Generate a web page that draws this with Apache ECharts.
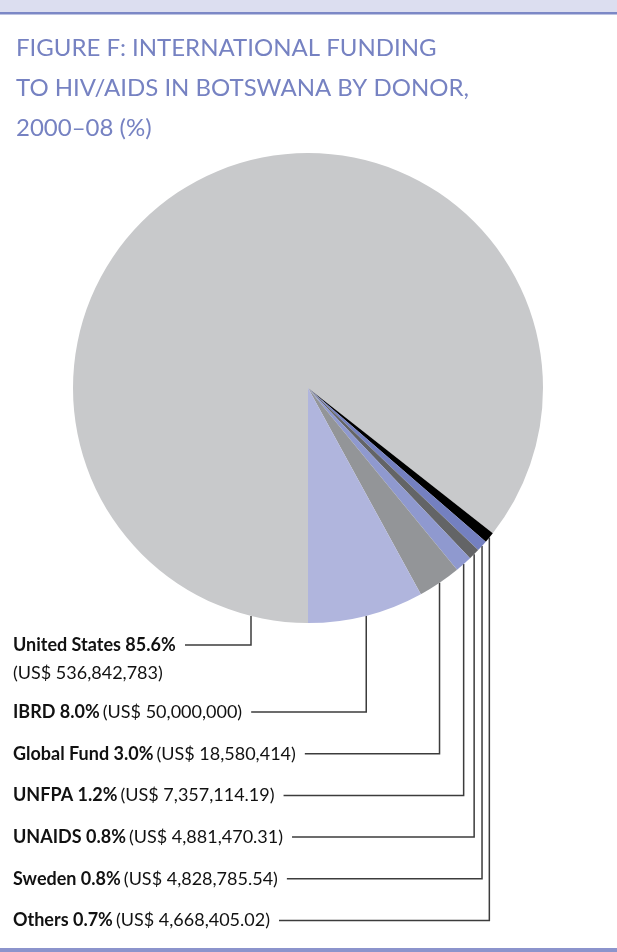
<!DOCTYPE html>
<html>
<head>
<meta charset="utf-8">
<script src="https://cdn.jsdelivr.net/npm/echarts@6/dist/echarts.min.js"></script>
<style>
html,body{margin:0;padding:0;background:#fff;}
#chart{width:617px;height:952px;}
</style>
</head>
<body>
<div id="chart"></div>
<script>
// ---- data (listed in label order) ----
var donors = ['United States', 'IBRD', 'Global Fund', 'UNFPA', 'UNAIDS', 'Sweden', 'Others'];
var amounts = [536842783, 50000000, 18580414, 7357114.19, 4881470.31, 4828785.54, 4668405.02];
var percents = [85.6, 8.0, 3.0, 1.2, 0.8, 0.8, 0.7];
var titleLines = ['FIGURE F: INTERNATIONAL FUNDING', 'TO HIV/AIDS IN BOTSWANA BY DONOR,', '2000\u201308 (%)'];

// ---- styles ----
var sliceColors = ['#c8c9cb', '#b0b5dd', '#939598', '#8f99cf', '#636466', '#7480c0', '#000000'];
var CX = 308, CY = 388, R = 235;
var FONT = 'Lato, "Open Sans", sans-serif';
// drawing order around the pie (clockwise from 6 o'clock): US first, then the small donors back towards IBRD
var sliceOrder = [0, 6, 5, 4, 3, 2, 1];

function fmtAmount(v) {
  var dec = Number.isInteger(v) ? 0 : 2;
  return new Intl.NumberFormat('en-US', {minimumFractionDigits: dec, maximumFractionDigits: dec}).format(v);
}

var pieData = sliceOrder.map(function (k) {
  return {name: donors[k], value: amounts[k], rank: k, itemStyle: {color: sliceColors[k]}};
});

var chart = echarts.init(document.getElementById('chart'), null, {renderer: 'canvas'});

var option = {
  animation: false,
  backgroundColor: '#ffffff',
  title: {
    text: titleLines.join('\n'),
    left: 11,
    top: 23,
    textStyle: {color: '#7682c2', fontFamily: FONT, fontWeight: 'normal', fontSize: 24, lineHeight: 40}
  },
  graphic: [
    {type: 'rect', left: 0, top: 0, shape: {width: 617, height: 12}, style: {fill: '#dcdef0'}},
    {type: 'rect', left: 0, top: 12, shape: {width: 617, height: 2.5}, style: {fill: '#7c88c6'}},
    {type: 'rect', left: 0, top: 948, shape: {width: 617, height: 4}, style: {fill: '#8c94cc'}}
  ],
  series: [{
    type: 'pie',
    center: [CX, CY],
    radius: [0, R],
    startAngle: -90,
    clockwise: true,
    avoidLabelOverlap: false,
    data: pieData,
    itemStyle: {borderWidth: 0},
    label: {
      show: true,
      position: 'outside',
      fontFamily: FONT,
      color: '#111',
      formatter: function (p) {
        var i = p.data.rank;
        var head = '{b|' + donors[i] + ' ' + percents[i].toFixed(1) + '%}';
        var tail = '{n|(US$ ' + fmtAmount(amounts[i]) + ')}';
        return i === 0 ? head + '\n' + tail : head + ' ' + tail;
      },
      rich: {
        b: {fontFamily: FONT, fontWeight: 'bold', fontSize: 18, color: '#111', lineHeight: 28},
        n: {fontFamily: FONT, fontWeight: 'normal', fontSize: 18, color: '#111', lineHeight: 28}
      }
    },
    labelLine: {show: true, lineStyle: {color: '#3c3c3c', width: 1.5}},
    labelLayout: function (params) {
      var i = sliceOrder[params.dataIndex];
      var lr = params.labelRect;
      var x = 13;
      var midY = i === 0 ? 645 : 712 + (i - 1) * 41.7;
      var top = midY - 14;
      var start;
      if (i === 0) {
        start = [CX - 57, CY + Math.sqrt(R * R - 57 * 57)];
      } else {
        start = params.labelLinePoints ? params.labelLinePoints[0] : [CX, CY + R];
      }
      var lineEnd = i === 0 ? 185 : x + lr.width + 9;
      return {
        x: x,
        y: top,
        align: 'left',
        verticalAlign: 'top',
        labelLinePoints: [start, [start[0], midY], [lineEnd, midY]]
      };
    }
  }]
};
chart.setOption(option);
</script>
</body>
</html>
